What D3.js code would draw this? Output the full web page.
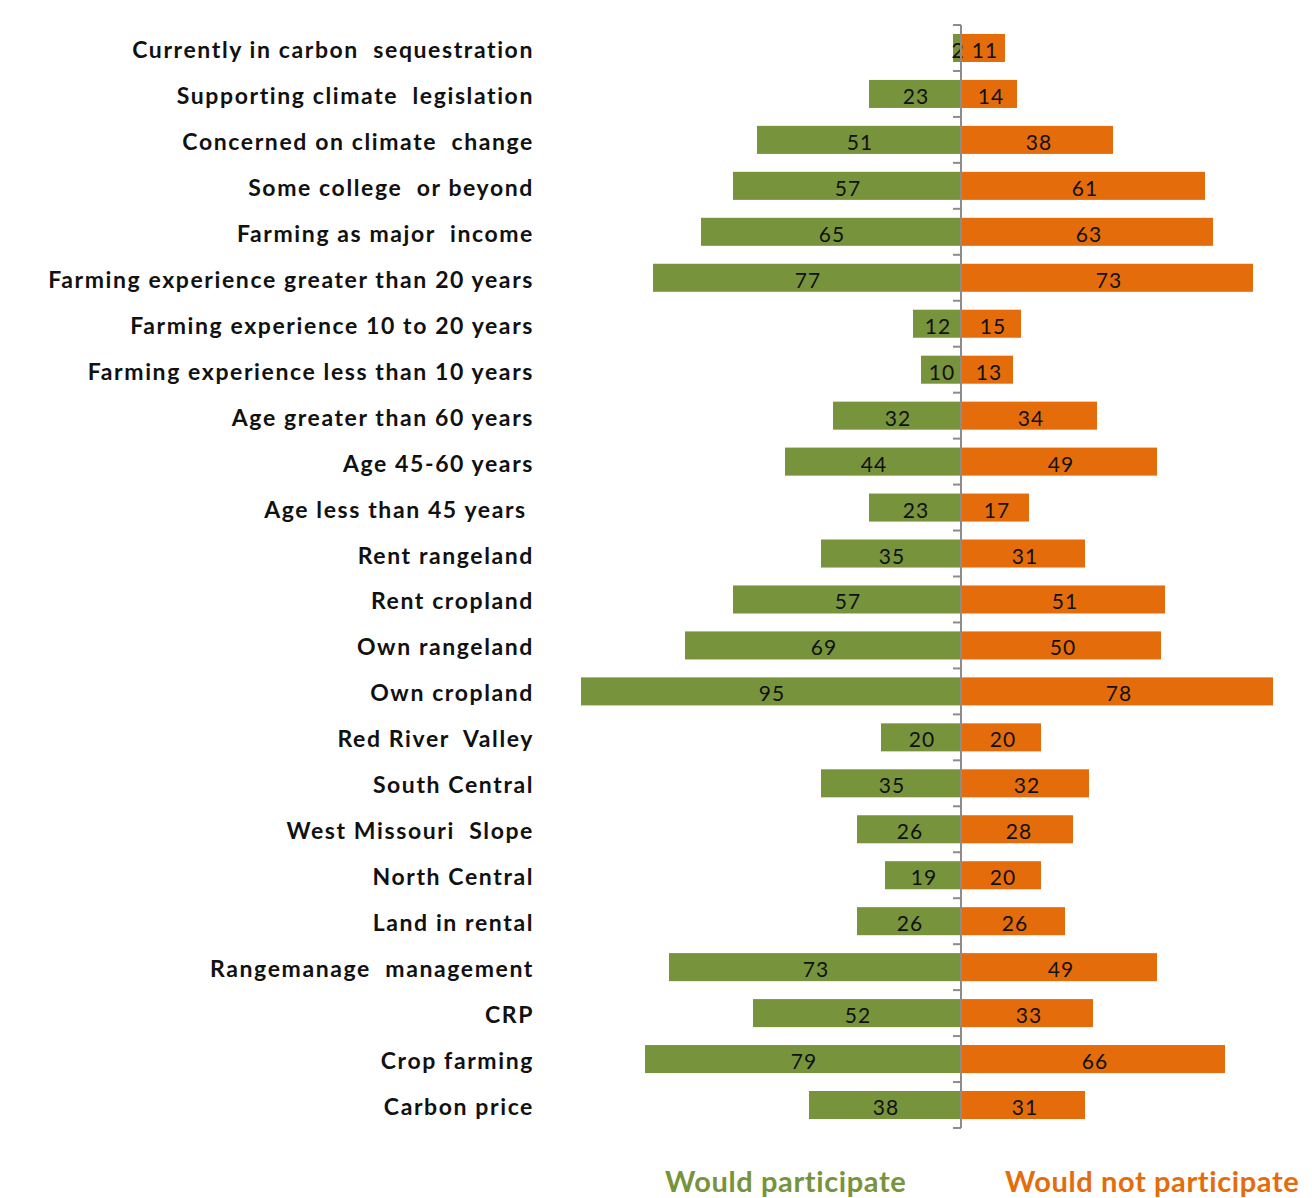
<!DOCTYPE html>
<html><head><meta charset="utf-8">
<script src="https://cdn.jsdelivr.net/npm/d3@7"></script>
<style>
html,body{margin:0;padding:0;background:#fff;}
svg{display:block;}
text{white-space:pre;}
</style></head>
<body>
<svg id="chart" width="1312" height="1198"></svg>
<script>
const categories = [
  "Currently in carbon  sequestration",
  "Supporting climate  legislation",
  "Concerned on climate  change",
  "Some college  or beyond",
  "Farming as major  income",
  "Farming experience greater than 20 years",
  "Farming experience 10 to 20 years",
  "Farming experience less than 10 years",
  "Age greater than 60 years",
  "Age 45-60 years",
  "Age less than 45 years ",
  "Rent rangeland",
  "Rent cropland",
  "Own rangeland",
  "Own cropland",
  "Red River  Valley",
  "South Central",
  "West Missouri  Slope",
  "North Central",
  "Land in rental",
  "Rangemanage  management",
  "CRP",
  "Crop farming",
  "Carbon price"
];
const wouldParticipate = [2,23,51,57,65,77,12,10,32,44,23,35,57,69,95,20,35,26,19,26,73,52,79,38];
const wouldNotParticipate = [11,14,38,61,63,73,15,13,34,49,17,31,51,50,78,20,32,28,20,26,49,33,66,31];
const seriesNames = ["Would participate", "Would not participate"];
const colors = ["#77933C", "#E46C0A"];

const svg = d3.select("#chart");
const cx = 961;
const y = d3.scaleBand().domain(categories).range([25, 1128]).paddingInner(0.39).paddingOuter(0.195);
const x = d3.scaleLinear().domain([0, 100]).range([0, 400]);
const font = "Lato, 'Open Sans', sans-serif";

// green bars
svg.append("g").selectAll("rect").data(categories).join("rect")
  .attr("x", (d,i) => cx - x(wouldParticipate[i]))
  .attr("y", d => y(d))
  .attr("width", (d,i) => x(wouldParticipate[i]))
  .attr("height", y.bandwidth())
  .attr("fill", colors[0]);
// orange bars
svg.append("g").selectAll("rect").data(categories).join("rect")
  .attr("x", cx)
  .attr("y", d => y(d))
  .attr("width", (d,i) => x(wouldNotParticipate[i]))
  .attr("height", y.bandwidth())
  .attr("fill", colors[1]);

// value labels
svg.append("g").selectAll("text").data(categories).join("text")
  .attr("x", (d,i) => cx - x(wouldParticipate[i]) / 2 + 1)
  .attr("y", d => y(d) + y.bandwidth()/2 + 10)
  .attr("text-anchor", "middle")
  .attr("font-family", font).attr("font-size", 21).attr("letter-spacing", 1)
  .attr("fill", "#111")
  .text((d,i) => wouldParticipate[i]);
svg.append("g").selectAll("text").data(categories).join("text")
  .attr("x", (d,i) => cx + x(wouldNotParticipate[i]) / 2 + 2)
  .attr("y", d => y(d) + y.bandwidth()/2 + 10)
  .attr("text-anchor", "middle")
  .attr("font-family", font).attr("font-size", 21).attr("letter-spacing", 1)
  .attr("fill", "#111")
  .text((d,i) => wouldNotParticipate[i]);

// axis
const ag = svg.append("g").attr("transform", `translate(${cx},0)`);
const bounds = categories.map(d => y(d) - y.step()*y.paddingInner()/2).concat([1128]);
ag.selectAll("line.tk").data(bounds).join("line").attr("class","tk")
  .attr("x1", -8).attr("x2", 0).attr("y1", d => d).attr("y2", d => d)
  .attr("stroke", "#8c8c8c").attr("stroke-width", 2);
ag.append("line").attr("x1",0).attr("x2",0).attr("y1",bounds[0]).attr("y2",1128)
  .attr("stroke", "#8c8c8c").attr("stroke-width", 2);

// category labels
svg.append("g").selectAll("text").data(categories).join("text")
  .attr("x", 534)
  .attr("y", d => y(d) + y.bandwidth()/2 + 10)
  .attr("text-anchor", "end")
  .attr("font-family", font).attr("font-weight", "bold").attr("font-size", 23).attr("letter-spacing", 1.6)
  .attr("fill", "#111")
  .text(d => d);

// legend
svg.append("text").attr("x", 665).attr("y", 1192)
  .attr("font-family", font).attr("font-weight", "bold").attr("font-size", 29).attr("letter-spacing", 0.6)
  .attr("fill", colors[0]).text(seriesNames[0]);
svg.append("text").attr("x", 1005).attr("y", 1192)
  .attr("font-family", font).attr("font-weight", "bold").attr("font-size", 29).attr("letter-spacing", 0.6)
  .attr("fill", colors[1]).text(seriesNames[1]);
</script>
</body></html>
